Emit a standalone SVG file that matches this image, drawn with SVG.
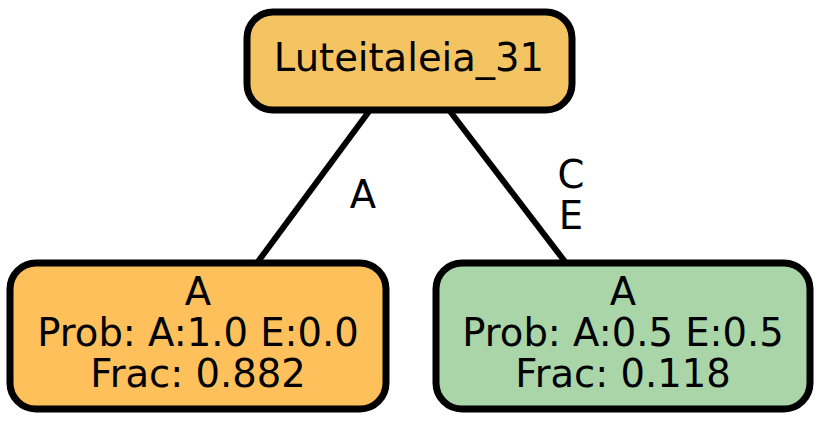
<svg xmlns="http://www.w3.org/2000/svg" width="822" height="421" viewBox="0 0 822 421">
  <style>
    .node { stroke: #000; stroke-width: 7; }
    .edge { stroke: #000; stroke-width: 6; fill: none; }
    text { font-family: "DejaVu Sans", sans-serif; font-size: 38.5px; fill: #000; text-anchor: middle; }
  </style>
  <rect width="822" height="421" fill="#fff"/>
  <g id="connectors">
    <path class="edge" d="M370,110 L257,263"/>
    <path class="edge" d="M449,110 L566,263"/>
    <text x="363" y="208">A</text>
    <text x="571" y="188">C</text>
    <text x="571" y="229">E</text>
  </g>
  <g id="root">
    <rect class="node" x="247" y="12" width="325" height="98" rx="26" fill="#F4C462"/>
    <text x="409" y="71">Luteitaleia_31</text>
  </g>
  <g id="leafA">
    <rect class="node" x="10" y="263" width="376" height="146" rx="26" fill="#FDC05A"/>
    <text x="198" y="305">A</text>
    <text x="198" y="346">Prob: A:1.0 E:0.0</text>
    <text x="198" y="387">Frac: 0.882</text>
  </g>
  <g id="leafB">
    <rect class="node" x="436" y="263" width="374" height="146" rx="26" fill="#A9D5A8"/>
    <text x="623" y="305">A</text>
    <text x="623" y="346">Prob: A:0.5 E:0.5</text>
    <text x="623" y="387">Frac: 0.118</text>
  </g>
</svg>
